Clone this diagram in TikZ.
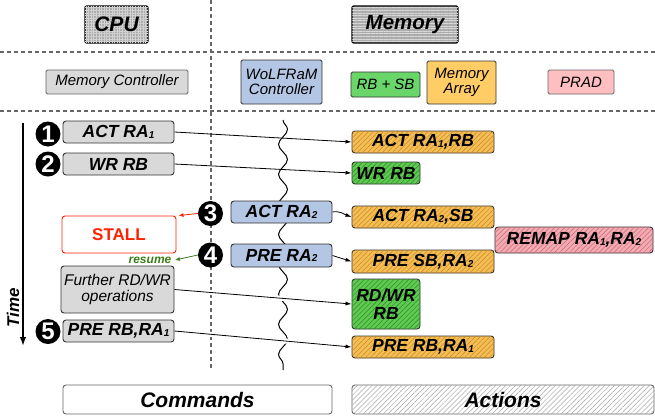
\documentclass[tikz,border=0pt]{standalone}
\usepackage{fontspec}
\setmainfont{Liberation Sans}
\usetikzlibrary{arrows.meta,patterns.meta,decorations.pathmorphing,backgrounds}
\pgfdeclarelayer{fg}
\pgfsetlayers{background,main,fg}
\definecolor{bordercol}{HTML}{333333}
\definecolor{cmdgray}{HTML}{D9D9D9}
\definecolor{wolblue}{HTML}{B3C6E4}
\definecolor{rbgreen}{HTML}{6AD66A}
\definecolor{marange}{HTML}{FFCC66}
\definecolor{pradpink}{HTML}{FFBFC0}
\definecolor{actorange}{HTML}{F5BE55}
\definecolor{actorangedk}{HTML}{C98A25}
\definecolor{actgreen}{HTML}{5ECB50}
\definecolor{actgreendk}{HTML}{2E8A2E}
\definecolor{actpink}{HTML}{F4AAB2}
\definecolor{actpinkdk}{HTML}{C56C78}
\definecolor{stallred}{HTML}{FF2200}
\definecolor{resumegreen}{HTML}{3C7D1A}
\definecolor{dashgray}{HTML}{666666}
\newcommand{\sbx}[1]{\raisebox{-0.8pt}{\fontsize{10}{10}\selectfont #1}}
\tikzset{
  box/.style={draw=bordercol, line width=0.9pt, rounded corners=3pt, inner sep=0pt, align=center},
  boldtxt/.style={font=\bfseries\itshape\fontsize{17.5}{19}\selectfont},
  cmd/.style={box, boldtxt, fill=cmdgray, minimum width=111pt, minimum height=22pt},
  blu/.style={box, boldtxt, fill=wolblue, minimum width=101pt, minimum height=22pt},
  hdr/.style={box, font=\itshape\fontsize{15}{17}\selectfont, rounded corners=1.5pt, line width=0.8pt},
  num/.style={circle, fill=black, text=white, font=\bfseries\fontsize{24}{24}\selectfont, minimum size=25pt, inner sep=0pt},
  hatchbox/.style n args={2}{box, boldtxt, fill=#1, postaction={pattern={Lines[angle=45,distance=3.5pt,line width=0.5pt]}, pattern color=#2}},
  dashline/.style={draw=dashgray, line width=1.2pt, dash pattern=on 4pt off 3pt},
  conn/.style={line width=0.8pt, -{Latex[length=6pt,width=4pt]}},
  gapconn/.style={conn, preaction={draw=white, line width=5pt, -}},
  big/.style={font=\bfseries\itshape\fontsize{21}{22}\selectfont}
}
\begin{document}
\begin{tikzpicture}[x=1pt,y=-1pt]
\useasboundingbox (0,0) rectangle (655,416);
% separators
\draw[dashline] (0,52) -- (655,52);
\draw[dashline] (0,111) -- (655,111);
\draw[dashline] (211,0) -- (211,368);
% wavy line
\draw[line width=1pt, decorate, decoration={snake, amplitude=4.5pt, segment length=30pt}] (283,120) -- (283,370);
% time axis
\coordinate (t0) at (23,123);
\coordinate (t1) at (23,346);
\draw[line width=1.5pt, -{Latex[length=9pt,width=6.5pt]}] (t0) -- (t1);
\node[rotate=90, font=\bfseries\itshape\fontsize{17}{17}\selectfont] (time) at (13,308) {Time};

\begin{pgfonlayer}{fg}
% headers
\node[box, rounded corners=2pt, line width=1.4pt, draw=black, fill=gray!65, postaction={pattern={Hatch[angle=0,distance=2.6pt,line width=0.6pt]}, pattern color=gray!35}, font=\bfseries\itshape\fontsize{21}{22}\selectfont, minimum width=63pt, minimum height=37pt] (cpu) at (116.5,24.5) {CPU};
\node[box, rounded corners=2pt, line width=1.4pt, draw=black, fill=gray!65, postaction={pattern={Lines[angle=0,distance=2.6pt,line width=0.6pt]}, pattern color=gray!30}, font=\bfseries\itshape\fontsize{20.5}{22}\selectfont, minimum width=106pt, minimum height=37pt] (mem) at (405,24.5) {Memory};
\node[hdr, fill=cmdgray, draw=dashgray, minimum width=142pt, minimum height=24pt] (mc) at (117,82) {Memory Controller};
\node[hdr, fill=wolblue, minimum width=81pt, minimum height=44pt] (wol) at (281.5,82) {WoLFRaM\\[-2pt]Controller};
\node[hdr, fill=rbgreen, minimum width=69pt, minimum height=25pt] (rbsb) at (385.5,84.5) {RB + SB};
\node[hdr, fill=marange, minimum width=69pt, minimum height=43pt] (marr) at (461.5,82.5) {Memory\\[-2pt]Array};
\node[hdr, fill=pradpink, draw=dashgray, minimum width=66pt, minimum height=24pt] (prad) at (581,82) {PRAD};

% commands
\node[cmd] (c1) at (118.5,132) {ACT RA\sbx{1}};
\node[cmd] (c2) at (118.5,164) {WR RB};
\node[blu] (c3) at (281.5,212) {ACT RA\sbx{2}};
\node[box, draw=stallred, fill=white, text=stallred, font=\bfseries\fontsize{17}{18}\selectfont, minimum width=114pt, minimum height=37pt] (stall) at (119,234.5) {STALL};
\node[blu, minimum height=23pt] (c4) at (281.5,255.5) {PRE RA\sbx{2}};
\node[box, fill=cmdgray, font=\itshape\fontsize{15.5}{17}\selectfont, minimum width=113pt, minimum height=47pt] (further) at (117.5,289.5) {Further RD/WR\\[-1pt]operations};
\node[cmd] (c5) at (118.5,331) {PRE RB,RA\sbx{1}};
\node[font=\bfseries\itshape\fontsize{12}{12}\selectfont, text=resumegreen] (resume) at (150,260) {resume};

% numbers
\node[num] (n1) at (48,134) {1};
\node[num] (n2) at (48,164) {2};
\node[num] (n3) at (210.5,213.5) {3};
\node[num] (n4) at (210.5,255) {4};
\node[num] (n5) at (48,331.5) {5};

% actions
\node[hatchbox={actorange}{actorangedk}, minimum width=142pt, minimum height=22pt] (a1) at (423,142) {ACT RA\sbx{1},RB};
\node[hatchbox={actgreen}{actgreendk}, minimum width=68pt, minimum height=22pt] (a2) at (386,173) {WR RB};
\node[hatchbox={actorange}{actorangedk}, minimum width=142pt, minimum height=22pt] (a3) at (423,217) {ACT RA\sbx{2},SB};
\node[hatchbox={actpink}{actpinkdk}, minimum width=158pt, minimum height=26pt] (remap) at (574,240) {REMAP RA\sbx{1},RA\sbx{2}};
\node[hatchbox={actorange}{actorangedk}, minimum width=142pt, minimum height=23pt] (a4) at (423,261.5) {PRE SB,RA\sbx{2}};
\node[hatchbox={actgreen}{actgreendk}, minimum width=68pt, minimum height=50pt] (a5) at (386,304) {RD/WR\\[-1pt]RB};
\node[hatchbox={actorange}{actorangedk}, minimum width=142pt, minimum height=22pt] (a6) at (423,347) {PRE RB,RA\sbx{1}};

% bottom legend
\node[box, draw=dashgray, fill=white, big, minimum width=269pt, minimum height=29pt] (cmds) at (197.5,399.5) {Commands};
\node[box, draw=dashgray, fill=white, postaction={pattern={Lines[angle=45,distance=3.5pt,line width=0.5pt]}, pattern color=gray!70}, big, minimum width=302pt, minimum height=29pt] (acts) at (503,399.5) {Actions};
\end{pgfonlayer}

% connectors
\draw[conn] (c1.east) -- (a1.west);
\draw[conn] (c2.east) -- (a2.west);
\draw[conn] (c3.east) to[out=10,in=160] (a3.west);
\draw[conn] (c4.east) -- (a4.west);
\draw[gapconn] (further.east) -- (a5.west);
\draw[gapconn] (c5.east) -- (a6.west);
\draw[conn, draw=stallred, -{Latex[length=5pt,width=4pt]}] (n3.west) -- ([xshift=2pt]stall.north east);
\draw[conn, draw=resumegreen, -{Latex[length=5pt,width=4pt]}] (n4.west) -- (resume.east);
\end{tikzpicture}
\end{document}
